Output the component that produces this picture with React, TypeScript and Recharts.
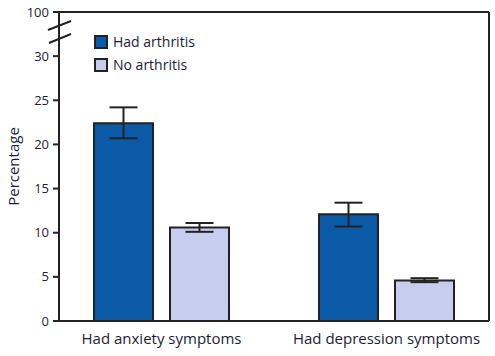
import React from "react";
import { BarChart, Bar, XAxis, YAxis, ErrorBar, ReferenceLine, Customized } from "recharts";

const categories = ["Had anxiety symptoms", "Had depression symptoms"];
const seriesNames = ["Had arthritis", "No arthritis"];
const hadArthritis = [22.4, 12.1];
const hadArthritisLow = [20.7, 10.7];
const hadArthritisHigh = [24.2, 13.4];
const noArthritis = [10.6, 4.6];
const noArthritisLow = [10.1, 4.4];
const noArthritisHigh = [11.1, 4.85];
const yTicks = [0, 5, 10, 15, 20, 25, 30, 35];
const yTickLabels = ["0", "5", "10", "15", "20", "25", "30", "100"];

const colors = ["#0b5aa7", "#c6cdee"];
const ink = "#222";
const textColor = "#1c1c34";
const font = "'Open Sans', 'Noto Sans', sans-serif";

const data = categories.map((c, i) => ({
  category: c,
  had: hadArthritis[i],
  hadErr: [hadArthritis[i] - hadArthritisLow[i], hadArthritisHigh[i] - hadArthritis[i]],
  no: noArthritis[i],
  noErr: [noArthritis[i] - noArthritisLow[i], noArthritisHigh[i] - noArthritis[i]],
}));

const W = 495;
const H = 356;
const M = { top: 12, right: 5, left: 0, bottom: 0 };
const Y_W = 59;

const AxisBreak = () => {
  const x = M.left + Y_W;
  return (
    <g>
      <rect x={x - 3} y={25} width={6} height={12} fill="#fff" />
      <line x1={x - 11} y1={30} x2={x + 12} y2={21} stroke={ink} strokeWidth={2} />
      <line x1={x - 10} y1={43} x2={x + 12} y2={34} stroke={ink} strokeWidth={2} />
    </g>
  );
};

export default function App() {
  return (
    <div style={{ position: "absolute", left: 0, top: 0, width: W, height: H, background: "#fff" }}>
      <BarChart width={W} height={H} data={data} margin={M} barSize={59} barGap={17}>
        <XAxis
          dataKey="category"
          height={35}
          padding={{ left: -10, right: -10 }}
          tickLine={false}
          tickSize={6}
          tickMargin={6}
          axisLine={{ stroke: ink, strokeWidth: 2 }}
          tick={{ fill: textColor, fontSize: 15, fontFamily: font }}
        />
        <YAxis
          width={Y_W}
          domain={[0, 35]}
          ticks={yTicks}
          interval={0}
          tickFormatter={(v: number) => yTickLabels[yTicks.indexOf(v)]}
          tickSize={6}
          tickMargin={4}
          axisLine={{ stroke: ink, strokeWidth: 2 }}
          tickLine={{ stroke: ink, strokeWidth: 2 }}
          tick={{ fill: textColor, fontSize: 13, fontFamily: font }}
          label={{
            value: "Percentage",
            angle: -90,
            position: "insideLeft",
            offset: 14,
            style: { fill: textColor, fontSize: 15, fontFamily: font, textAnchor: "middle" },
          }}
        />
        <YAxis
          yAxisId="r"
          orientation="right"
          width={1}
          domain={[0, 35]}
          tick={false}
          tickLine={false}
          axisLine={{ stroke: ink, strokeWidth: 2 }}
        />
        <ReferenceLine y={35} stroke={ink} strokeWidth={2} />
        <Bar dataKey="had" name={seriesNames[0]} fill={colors[0]} stroke={ink} strokeWidth={2} isAnimationActive={false}>
          <ErrorBar dataKey="hadErr" width={14} stroke={ink} strokeWidth={2} />
        </Bar>
        <Bar dataKey="no" name={seriesNames[1]} fill={colors[1]} stroke={ink} strokeWidth={2} isAnimationActive={false}>
          <ErrorBar dataKey="noErr" width={14} stroke={ink} strokeWidth={2} />
        </Bar>
        <Customized component={AxisBreak} />
      </BarChart>
      <div style={{ position: "absolute", left: 94, top: 35, fontFamily: font, fontSize: 14, color: textColor }}>
        {seriesNames.map((n, i) => (
          <div key={n} style={{ display: "flex", alignItems: "center", height: 14, marginBottom: 9 }}>
            <div
              style={{
                width: 10,
                height: 10,
                border: `2px solid ${ink}`,
                background: colors[i],
                marginRight: 5,
              }}
            />
            <span style={{ lineHeight: "14px" }}>{n}</span>
          </div>
        ))}
      </div>
    </div>
  );
}
